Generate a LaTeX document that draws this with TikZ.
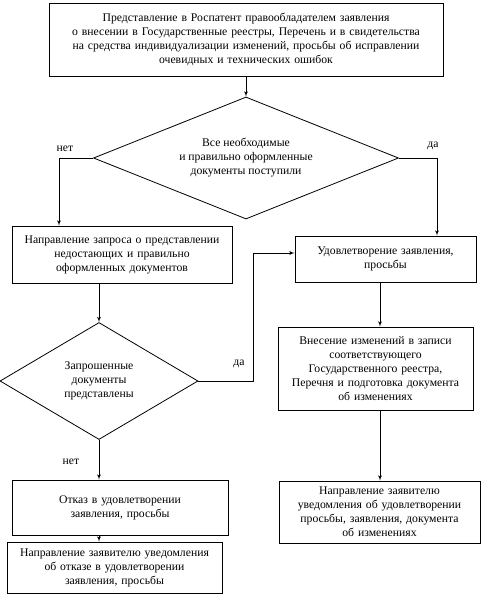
\documentclass[tikz,border=0pt]{standalone}
\usepackage{fontspec}
\setmainfont{Liberation Serif}
\usetikzlibrary{positioning,arrows,calc,shapes.geometric}

\begin{document}
\begin{tikzpicture}[
      >=latex',
      x=1pt, y=-1pt,
      font=\fontsize{11.7}{14}\selectfont
    ]

    \tikzstyle{box} = [rectangle, draw=black, line width=0.8pt, align=center, inner sep=2pt]

    \tikzstyle{check} = [diamond, draw=black, line width=0.8pt, align=center, inner sep=0pt]

    \tikzstyle{arrow} = [->, line width=0.8pt]

    \tikzstyle{answer} = [inner sep=1pt]

    \useasboundingbox (0,0) rectangle (484,603);

    \node [box, text width=390pt, minimum height=73pt] (submit) at (246,39.5) {
    	Представление в Роспатент правообладателем заявления\\
    	о внесении в Государственные реестры, Перечень и в свидетельства\\
    	на средства индивидуализации изменений, просьбы об исправлении\\
    	очевидных и технических ошибок
        };
    \node [check, shape aspect=2.5, minimum width=305pt, minimum height=122pt] (complete) at (246,158) {
    	Все необходимые\\
    	и правильно оформленные\\
    	документы поступили
        };
    \node [box, text width=216pt, minimum height=57pt] (query) at (122,254.5) {
    	Направление запроса о представлении\\
    	недостающих и правильно\\
    	оформленных документов
        };
    \node [box, text width=177pt, minimum height=46pt] (grant) at (385.5,259) {
    	Удовлетворение заявления,\\
    	просьбы
        };
    \node [check, shape aspect=1.7, minimum width=198pt, minimum height=117pt] (received) at (99,381) {
    	Запрошенные\\
    	документы\\
    	представлены
        };
    \node [box, text width=191pt, minimum height=83pt] (change) at (375.5,368.5) {
    	Внесение изменений в записи\\
    	соответствующего\\
    	Государственного реестра,\\
    	Перечня и подготовка документа\\
    	об изменениях
        };
    \node [box, text width=197pt, minimum height=62pt] (notify) at (379.5,512) {
    	Направление заявителю\\
    	уведомления об удовлетворении\\
    	просьбы, заявления, документа\\
    	об изменениях
        };
    \node [box, text width=212pt, minimum height=55pt] (refuse) at (120,507.5) {
    	Отказ в удовлетворении\\
    	заявления, просьбы
        };
    \node [box, text width=211pt, minimum height=51pt] (refnote) at (114.5,567.5) {
    	Направление заявителю уведомления\\
    	об отказе в удовлетворении\\
    	заявления, просьбы
        };

    \node [answer] (no1) at (65,149) {нет};
    \node [answer] (yes1) at (433,146) {да};
    \node [answer] (yes2) at (239,364) {да};
    \node [answer] (no2) at (71,462) {нет};

    \coordinate (rightaxis) at (380,0);
    \coordinate (detour) at (253,253);

    \draw [arrow] (submit.south) -- (complete.north);
    \draw [arrow] (complete.west) -| ([xshift=-63pt]query.north);
    \draw [arrow] (complete.east) -| ([xshift=51.5pt]grant.north);
    \draw [arrow] (query.south -| received.north) -- (received.north);
    \draw [arrow] (received.east) -| (detour) -- (detour -| grant.west);
    \draw [arrow] (grant.south -| rightaxis) -- (change.north -| rightaxis);
    \draw [arrow] (change.south -| rightaxis) -- (notify.north -| rightaxis);
    \draw [arrow] (received.south) -- (refuse.north -| received.south);
    \draw [arrow] (refuse.south -| received.south) -- (refnote.north -| received.south);

\end{tikzpicture}
\end{document}
